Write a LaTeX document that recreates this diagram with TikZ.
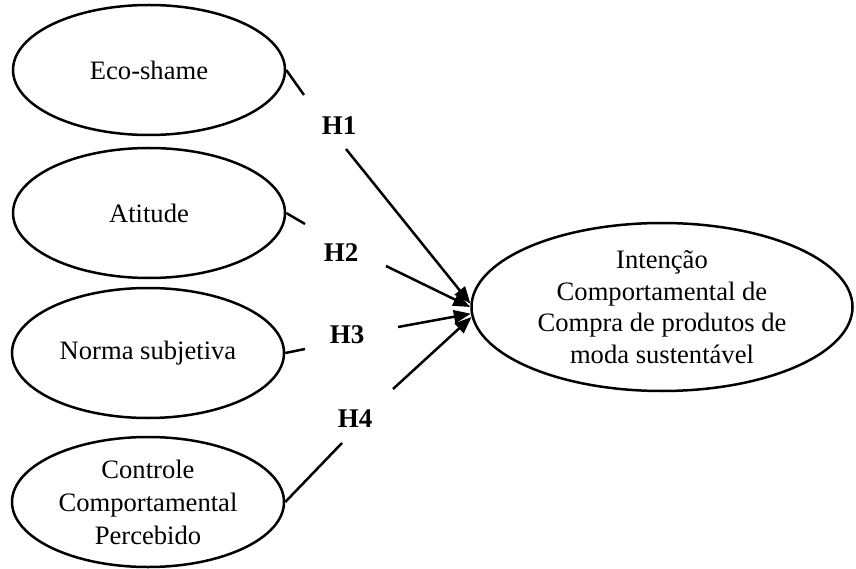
\documentclass[tikz,border=0pt]{standalone}
\usepackage{fontspec}
\setmainfont{Liberation Serif}
\usetikzlibrary{shapes.geometric,arrows.meta}
\begin{document}
\begin{tikzpicture}[x=1pt,y=-1pt,
  latent/.style={ellipse,draw,line width=2.5pt,inner sep=0pt,minimum width=272pt,minimum height=130pt,align=center,font=\fontsize{26.6}{33}\selectfont},
  hyp/.style={font=\bfseries\fontsize{27}{30}\selectfont,inner sep=0pt},
  conn/.style={line width=2.5pt},
  arr/.style={line width=2.5pt,-{Triangle[length=17pt,width=13pt]}}]
\useasboundingbox (0,0) rectangle (856,569);
\node[latent] (eco) at (149,70) {Eco-shame};
\node[latent] (att) at (149,213) {Atitude};
\node[latent] (norma) at (148,353) {Norma subjetiva};
\node[latent] (ctrl) at (148,502) {Controle\\Comportamental\\Percebido};
\node[latent,minimum width=381pt,minimum height=168pt,inner ysep=-6pt,font=\fontsize{26.6}{31.5}\selectfont] (intent) at (662,307) {Intenção\\Comportamental de\\Compra de produtos de\\moda sustentável};
\node[hyp] (h1) at (339,126) {H1};
\node[hyp] (h2) at (341,253) {H2};
\node[hyp] (h3) at (347,335) {H3};
\node[hyp] (h4) at (355,419) {H4};
\coordinate (s1) at (304,95);
\coordinate (s2) at (305,224);
\coordinate (s3) at (305,349);
\coordinate (s4) at (342,443);
\coordinate (a1) at (346,149);
\coordinate (a2) at (386,266);
\coordinate (a3) at (398,327);
\coordinate (a4) at (393,389);
\draw[conn] (eco.east) -- (s1);
\draw[conn] (att.east) -- (s2);
\draw[conn] (norma.east) -- (s3);
\draw[conn] (ctrl.east) -- (s4);
\draw[arr] (a1) -- (intent.179);
\draw[arr] (a2) -- (intent.180);
\draw[arr] (a3) -- (intent.182);
\draw[arr] (a4) -- (intent.183);
\end{tikzpicture}
\end{document}
